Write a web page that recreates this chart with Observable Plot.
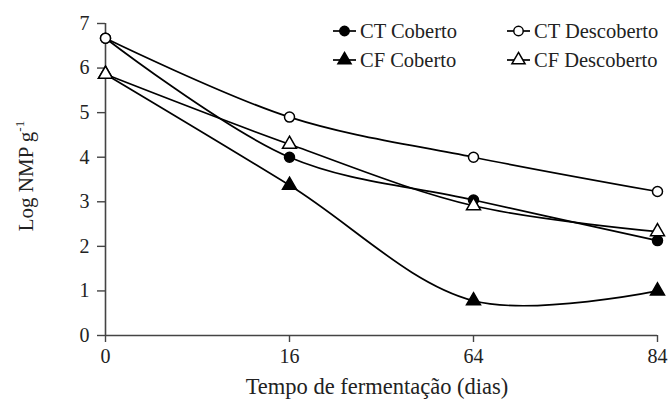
<!DOCTYPE html>
<html>
<head>
<meta charset="utf-8">
<script src="https://cdn.jsdelivr.net/npm/d3@7"></script>
<script src="https://cdn.jsdelivr.net/npm/@observablehq/plot@0.6"></script>
<style>
  html, body { margin: 0; padding: 0; background: #fff; }
  svg, svg text { font-family: "Liberation Serif", "Times New Roman", serif !important; }
</style>
</head>
<body>
<div id="chart"></div>
<script>
const days = ["0", "16", "64", "84"];
const seriesNames = ["CT Coberto", "CT Descoberto", "CF Coberto", "CF Descoberto"];
const ctCoberto = [6.67, 4.00, 3.04, 2.13];
const ctDescoberto = [6.67, 4.90, 4.00, 3.23];
const cfCoberto = [5.86, 3.37, 0.78, 1.00];
const cfDescoberto = [5.86, 4.29, 2.91, 2.33];
const yTicks = [0, 1, 2, 3, 4, 5, 6, 7];

const seriesValues = [ctCoberto, ctDescoberto, cfCoberto, cfDescoberto];
const symbols = ["circle", "circle", "triangle", "triangle"];
const fills = ["black", "white", "black", "white"];

const data = [];
seriesNames.forEach((s, i) => {
  days.forEach((d, j) => data.push({series: s, day: d, value: seriesValues[i][j], symbol: symbols[i], fill: fills[i]}));
});

const W = 669, H = 405;
const chart = Plot.plot({
  width: W,
  height: H,
  marginLeft: 105,
  marginRight: 12,
  marginTop: 23,
  marginBottom: 70,
  style: 'font-family: "Liberation Serif", "Times New Roman", serif; background: white;',
  x: {type: "point", domain: days, padding: 0},
  y: {domain: [0, 7]},
  marks: [
    Plot.ruleY([0], {stroke: "#444", strokeWidth: 1.6}),
    Plot.ruleX([days[0]], {y1: 0, y2: 7, stroke: "#444", strokeWidth: 1.6}),
    Plot.axisY({ticks: yTicks, tickFormat: d3.format("d"), tickSize: 8, tickPadding: 8, fontSize: 20, label: null, stroke: "#444", strokeWidth: 1.4, fill: "#222"}),
    Plot.axisX({tickSize: 7, tickPadding: 6, fontSize: 20, label: null, stroke: "#444", strokeWidth: 1.4, fill: "#222"}),
    Plot.line(data, {x: "day", y: "value", z: "series", curve: "catmull-rom", stroke: "black", strokeWidth: 1.7}),
    Plot.dot(data.filter(d => d.symbol === "circle"), {x: "day", y: "value", symbol: "circle", r: 5, fill: d => d.fill, stroke: "black", strokeWidth: 1.5}),
    Plot.dot(data.filter(d => d.symbol === "triangle"), {x: "day", y: "value", symbol: "triangle", r: 5.2, fill: d => d.fill, stroke: "black", strokeWidth: 1.5})
  ]
});

const svg = d3.select(chart);
// X axis title
svg.append("text")
  .attr("x", 377).attr("y", 394)
  .attr("text-anchor", "middle")
  .attr("font-size", 22.5)
  .attr("fill", "#222")
  .text("Tempo de fermentação (dias)");
// Y axis title with superscript
const yl = svg.append("text")
  .attr("transform", "translate(33,176) rotate(-90)")
  .attr("text-anchor", "middle")
  .attr("font-size", 21)
  .attr("fill", "#222");
yl.append("tspan").text("Log NMP g");
yl.append("tspan").attr("font-size", 13).attr("dy", -9).text("-1");

// Legend
const legendPos = [[333, 31], [507, 31], [333, 60], [507, 60]];
seriesNames.forEach((s, i) => {
  const [lx, ly] = legendPos[i];
  const g = svg.append("g");
  g.append("line").attr("x1", lx).attr("x2", lx + 23).attr("y1", ly).attr("y2", ly).attr("stroke", "black").attr("stroke-width", 1.7);
  const sym = d3.symbol().type(symbols[i] === "circle" ? d3.symbolCircle : d3.symbolTriangle).size(symbols[i] === "circle" ? 70 : 75);
  g.append("path").attr("d", sym()).attr("transform", `translate(${lx + 11.5},${ly})`)
    .attr("fill", fills[i]).attr("stroke", "black").attr("stroke-width", 1.5);
  g.append("text").attr("x", lx + 27).attr("y", ly + 7).attr("text-anchor", "start").attr("font-size", 20.5).attr("fill", "#222").text(s);
});

document.getElementById("chart").appendChild(chart);
</script>
</body>
</html>
